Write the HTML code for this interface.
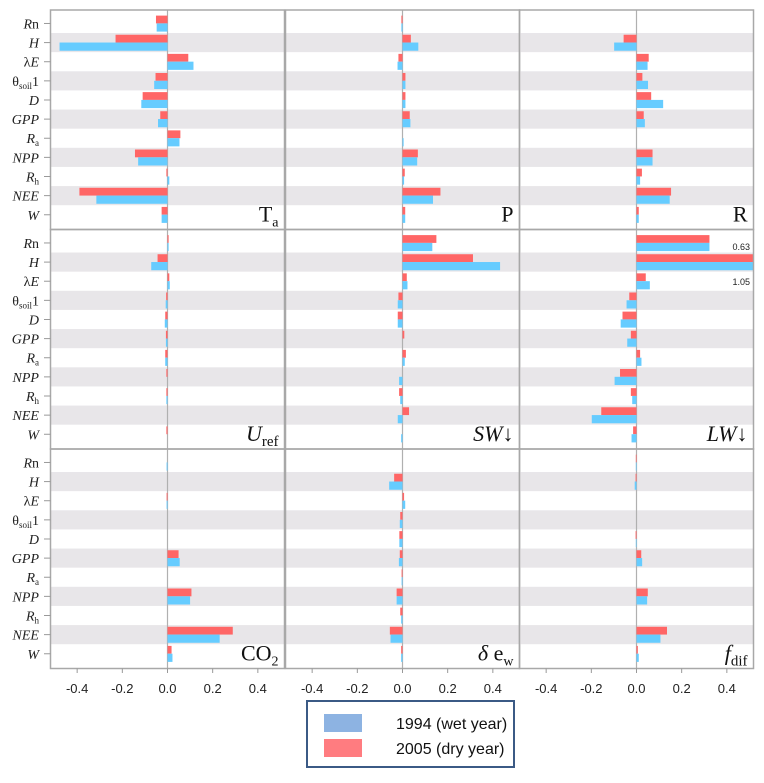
<!DOCTYPE html>
<html><head><meta charset="utf-8"><style>
body{margin:0;background:#fff;width:764px;height:778px;overflow:hidden;font-family:"Liberation Sans",sans-serif}
</style></head><body>
<svg id="chart" width="764" height="778" xmlns="http://www.w3.org/2000/svg"></svg>
<script>
const categories=["Rn","H","λE","θsoil","D","GPP","Ra","NPP","Rh","NEE","W"];
const panelNames=["Ta","P","R","Uref","SW↓","LW↓","CO2","δ ew","fdif"];
const xTicks=[-0.4,-0.2,0.0,0.2,0.4];
const tickLabels=["-0.4","-0.2","0.0","0.2","0.4"];
// 2005 (dry) values, per panel
const dry=[
[-0.051,-0.23,0.092,-0.053,-0.11,-0.032,0.057,-0.144,-0.005,-0.39,-0.026],
[-0.005,0.037,-0.018,0.013,0.013,0.032,0,0.068,0.01,0.168,0.012],
[0,-0.057,0.054,0.026,0.065,0.032,0,0.071,0.024,0.153,0.01],
[0.005,-0.044,0.008,-0.006,-0.01,-0.007,-0.01,-0.005,-0.005,0,-0.005],
[0.15,0.312,0.019,-0.018,-0.021,0.008,0.015,0,-0.015,0.029,0],
[0.323,0.63,0.041,-0.032,-0.062,-0.025,0.016,-0.073,-0.025,-0.156,-0.015],
[0,0,-0.004,0,0,0.049,0,0.106,0,0.289,0.018],
[0,-0.037,0.007,-0.01,-0.014,-0.012,-0.004,-0.026,-0.01,-0.056,-0.006],
[-0.003,-0.004,0,0,-0.004,0.021,0,0.05,0,0.135,0.006]];
// 1994 (wet) values
const wet=[
[-0.048,-0.478,0.115,-0.059,-0.116,-0.042,0.053,-0.13,0.008,-0.315,-0.026],
[-0.005,0.07,-0.022,0.013,0.013,0.035,0.005,0.065,0.007,0.135,0.012],
[0,-0.099,0.049,0.051,0.118,0.037,0,0.071,0.016,0.147,0.01],
[0.005,-0.072,0.01,-0.008,-0.012,-0.007,-0.01,0,-0.005,0,0],
[0.132,0.432,0.022,-0.021,-0.021,0,0.01,-0.015,-0.01,-0.021,-0.006],
[0.323,1.05,0.059,-0.044,-0.07,-0.041,0.022,-0.097,-0.019,-0.198,-0.022],
[-0.004,0,-0.004,0,0,0.054,0,0.1,0,0.231,0.022],
[0,-0.059,0.012,-0.012,-0.014,-0.016,-0.004,-0.026,-0.006,-0.053,-0.006],
[-0.003,-0.008,0,0,-0.003,0.025,0,0.047,0,0.106,0.01]];

const NS="http://www.w3.org/2000/svg";
const svg=document.getElementById('chart');
function mk(tag,attrs,parent){const e=document.createElementNS(NS,tag);for(const k in attrs)e.setAttribute(k,attrs[k]);(parent||svg).appendChild(e);return e;}
const PX0=[50.5,285.5,519.5],PY0=[10,229.5,449],PW=234,PH=219.5,ROWH=19.13,ROWOFF=3.9,DMAX=0.518;
function xs(p,v){const c=PX0[p%3]+PW/2;const v2=Math.max(-DMAX,Math.min(DMAX,v));return c+v2/DMAX*(PW/2);}
function ys(p,i){return PY0[Math.floor(p/3)]+ROWOFF+i*ROWH;}

for(let p=0;p<9;p++){
  const g=mk('g',{});
  
  
  const x0=PX0[p%3];
  for(let i=0;i<categories.length;i++){
    if(i%2===1){const b=mk('rect',{x:x0,y:ys(p,i),width:PW,height:ROWH,fill:'#e8e6e9'},g);
      }
  }
  const zx=xs(p,0);
  mk('line',{x1:zx,x2:zx,y1:PY0[Math.floor(p/3)],y2:PY0[Math.floor(p/3)]+PH,stroke:'#b0b0b0','stroke-width':1.2},g);
  for(let i=0;i<categories.length;i++){
    const yr=ys(p,i)+1.7;
    const d=dry[p][i],w=wet[p][i];
    const r=mk('rect',{x:Math.min(xs(p,d),zx),y:yr,width:Math.abs(xs(p,d)-zx),height:7.8,fill:'#ff6666'},g);
    
    
    const b=mk('rect',{x:Math.min(xs(p,w),zx),y:yr+7.8,width:Math.abs(xs(p,w)-zx),height:8.2,fill:'#66ccff'},g);
    
    
  }
  mk('rect',{x:x0,y:PY0[Math.floor(p/3)],width:PW,height:PH,fill:'none',stroke:'#a8a8a8','stroke-width':1.5},g);
}
// outlier annotations
const a1=mk('text',{x:750,y:250,'font-size':9,'text-anchor':'end',fill:'#222'});a1.textContent='0.63';

const a2=mk('text',{x:750,y:285,'font-size':9,'text-anchor':'end',fill:'#222'});a2.textContent='1.05';


// panel titles
const titleHTML=[
 '<tspan>T</tspan><tspan font-size="14" dy="5">a</tspan>',
 '<tspan>P</tspan>','<tspan>R</tspan>',
 '<tspan font-style="italic">U</tspan><tspan font-size="15" dy="5">ref</tspan>',
 '<tspan font-style="italic">SW</tspan><tspan>↓</tspan>',
 '<tspan font-style="italic">LW</tspan><tspan>↓</tspan>',
 '<tspan>CO</tspan><tspan font-size="14" dy="5">2</tspan>',
 '<tspan font-style="italic">δ</tspan><tspan> e</tspan><tspan font-size="14" dy="5">w</tspan>',
 '<tspan font-style="italic">f</tspan><tspan font-size="15" dy="5">dif</tspan>'];
for(let p=0;p<9;p++){
  const t=mk('text',{x:PX0[p%3]+PW-6,y:PY0[Math.floor(p/3)]+PH-8,'font-size':22,'text-anchor':'end','font-family':'Liberation Serif, serif',fill:'#111'});
  t.innerHTML=titleHTML[p];
  
  
}
// y labels
const labHTML=['<tspan font-style="italic">R</tspan>n','<tspan font-style="italic">H</tspan>','λ<tspan font-style="italic">E</tspan>',
 'θ<tspan font-size="9" dy="3">soil</tspan><tspan dy="-3">1</tspan>','<tspan font-style="italic">D</tspan>','<tspan font-style="italic">GPP</tspan>',
 '<tspan font-style="italic">R</tspan><tspan font-size="9" dy="3">a</tspan>','<tspan font-style="italic">NPP</tspan>',
 '<tspan font-style="italic">R</tspan><tspan font-size="9" dy="3">h</tspan>','<tspan font-style="italic">NEE</tspan>','<tspan font-style="italic">W</tspan>'];
for(let r=0;r<3;r++)for(let i=0;i<categories.length;i++){
  const y=ys(r*3,i)+ROWH/2;
  const t=mk('text',{x:39,y:y+5,'font-size':14,'text-anchor':'end','font-family':'Liberation Serif, serif',fill:'#222'});
  t.innerHTML=labHTML[i];
  
  
  mk('line',{x1:44,x2:50.5,y1:y,y2:y,stroke:'#999'});
}
// x ticks
for(let c=0;c<3;c++)for(let k=0;k<xTicks.length;k++){
  const x=xs(c,xTicks[k]);
  mk('line',{x1:x,x2:x,y1:668.5,y2:673,stroke:'#999'});
  const t=mk('text',{x:x,y:693,'font-size':13,'text-anchor':'middle',fill:'#222'});
  t.textContent=tickLabels[k];
  
  
}
// legend
const lg=mk('g',{});


mk('rect',{x:307,y:701,width:207,height:66,fill:'#fff',stroke:'#3b5a85','stroke-width':2},lg);
mk('rect',{x:324,y:714,width:38,height:18,fill:'#8db3e2'},lg);
mk('rect',{x:324,y:739,width:38,height:18,fill:'#ff7c80'},lg);
const l1=mk('text',{x:396,y:729,'font-size':16,fill:'#111'},lg);l1.textContent='1994 (wet year)';

const l2=mk('text',{x:396,y:754,'font-size':16,fill:'#111'},lg);l2.textContent='2005 (dry year)';

</script>
</body></html>
